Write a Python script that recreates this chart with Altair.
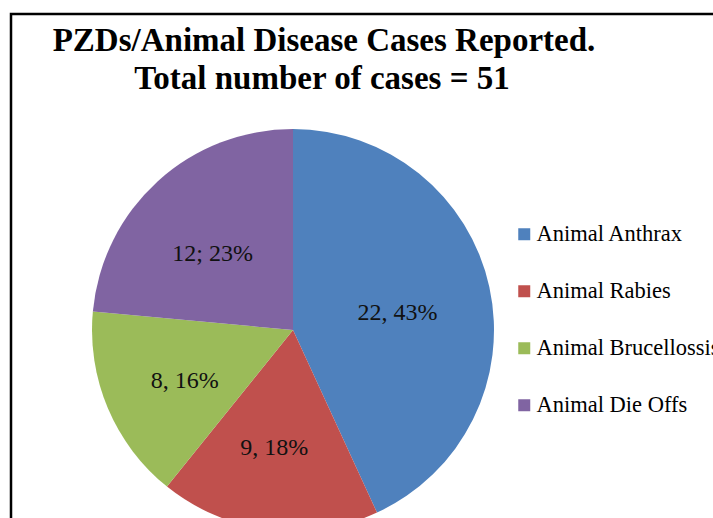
import altair as alt
import pandas as pd

categories = ["Animal Anthrax", "Animal Rabies", "Animal Brucellossis", "Animal Die Offs"]
cases = [22, 9, 8, 12]
labels = ["22, 43%", "9, 18%", "8, 16%", "12; 23%"]
colors = ["#4F81BD", "#C0504D", "#9BBB59", "#8064A2"]
title_lines = ["PZDs/Animal Disease Cases Reported.", "Total number of cases = 51"]

df = pd.DataFrame({
    "category": categories,
    "cases": cases,
    "label": labels,
    "order": list(range(len(categories))),
})

CX, CY, R = 293, 330, 201
SERIF = "Liberation Serif"

base = alt.Chart(df).encode(
    theta=alt.Theta("cases:Q", stack=True),
    order=alt.Order("order:Q"),
)

pie = base.mark_arc(radius=R).encode(
    x=alt.value(CX),
    y=alt.value(CY),
    color=alt.Color(
        "category:N",
        sort=categories,
        scale=alt.Scale(domain=categories, range=colors),
        legend=alt.Legend(
            orient="none", legendX=513, legendY=223, title=None,
            symbolType="square", symbolSize=144, symbolStrokeWidth=0,
            labelFont=SERIF, labelFontSize=22.5, labelColor="#000",
            labelOffset=1, rowPadding=34, labelLimit=400, padding=0,
        ),
    ),
)

text = base.mark_text(
    radius=112, font=SERIF, fontSize=24, color="#111", dx=-5, dy=7
).encode(x=alt.value(CX), y=alt.value(CY), text="label:N")

t1 = alt.Chart(pd.DataFrame({"t": [title_lines[0]]})).mark_text(
    font=SERIF, fontSize=33, fontWeight="bold", color="#000",
    align="center", baseline="alphabetic",
).encode(x=alt.value(324), y=alt.value(51), text="t:N")

t2 = alt.Chart(pd.DataFrame({"t": [title_lines[1]]})).mark_text(
    font=SERIF, fontSize=33, fontWeight="bold", color="#000",
    align="center", baseline="alphabetic",
).encode(x=alt.value(322), y=alt.value(89), text="t:N")

frame = alt.Chart(pd.DataFrame({"a": [0]})).mark_rect(
    fill="transparent", stroke="#000", strokeWidth=2.5
).encode(x=alt.value(11), x2=alt.value(780), y=alt.value(14), y2=alt.value(600))

chart = alt.layer(frame, pie, text, t1, t2).properties(
    width=713, height=518, padding=0, autosize="none", background="white"
).configure_view(stroke=None).configure_legend(
    labelFont=SERIF, labelFontSize=22.5, labelColor="#000"
)

chart.save("out.html", embed_options={"renderer": "svg", "actions": False})
